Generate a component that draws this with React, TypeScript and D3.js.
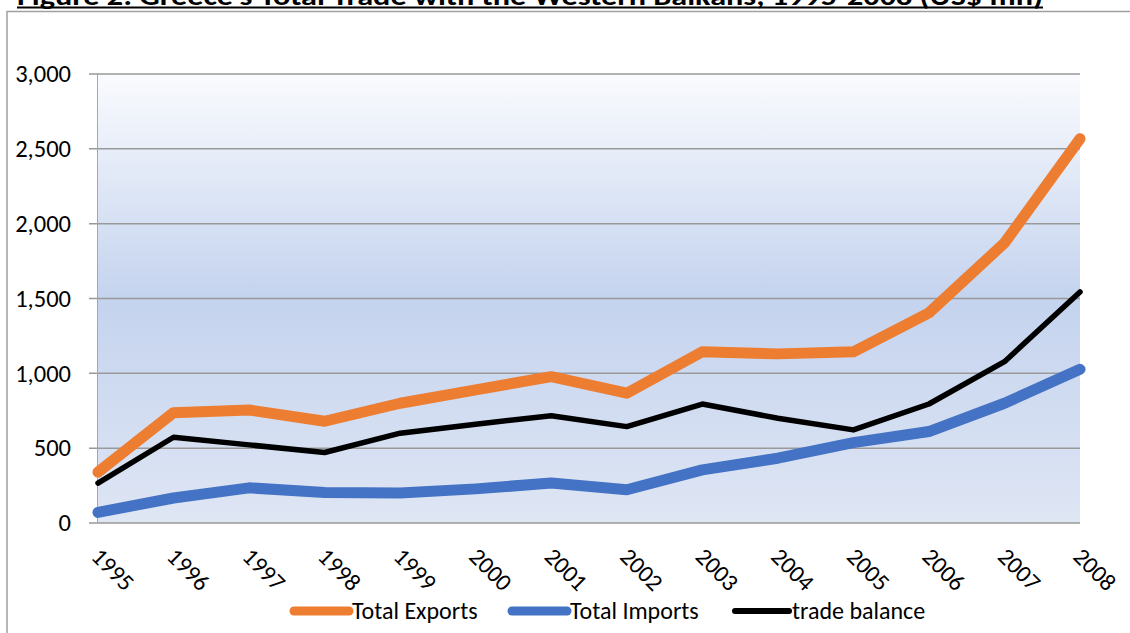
import React from "react";
import * as d3 from "d3";

const years = ["1995","1996","1997","1998","1999","2000","2001","2002","2003","2004","2005","2006","2007","2008"];
const totalExports = [340, 737, 755, 680, 800, 890, 978, 867, 1144, 1130, 1144, 1404, 1871, 2567];
const totalImports = [71, 167, 235, 204, 200, 228, 267, 222, 355, 433, 537, 611, 800, 1027];
const tradeBalance = [267, 573, 522, 471, 600, 660, 717, 644, 795, 700, 622, 795, 1078, 1544];
const yTicks = [0, 500, 1000, 1500, 2000, 2500, 3000];
const titleText = "Figure 2: Greece\u2019s Total Trade with the Western Balkans, 1995-2008 (US$ mn)";

const series = [
  { name: "Total Exports", values: totalExports, color: "#ED7D31", width: 11 },
  { name: "Total Imports", values: totalImports, color: "#4472C4", width: 11 },
  { name: "trade balance", values: tradeBalance, color: "#000000", width: 5.5 },
];

const FONT = "Carlito, Calibri, 'Liberation Sans', Arial, sans-serif";

export default function App() {
  const W = 1130, H = 633;
  const left = 98, right = 1080, top = 74, bottom = 523;
  const x = d3.scalePoint<string>().domain(years).range([left, right]);
  const y = d3.scaleLinear().domain([0, 3000]).range([bottom, top]);
  const fmt = d3.format(",");
  const line = d3.line<number>().x((_, i) => x(years[i]) as number).y((v) => y(v));

  const legendItems = [
    { s: series[0], x0: 294, x1: 349, tx: 352, tw: 131 },
    { s: series[1], x0: 512, x1: 567, tx: 570, tw: 134 },
    { s: series[2], x0: 735, x1: 789, tx: 792, tw: 136 },
  ];

  return (
    <svg width={W} height={H} style={{ position: "fixed", left: 0, top: 0 }} fontFamily={FONT}>
      <defs>
        <linearGradient id="bg" x1="0" y1="0" x2="0" y2="1">
          <stop offset="0%" stopColor="#fafbfe" />
          <stop offset="50%" stopColor="#c4d3ee" />
          <stop offset="100%" stopColor="#dfe6f4" />
        </linearGradient>
      </defs>
      <rect x={0} y={0} width={W} height={H} fill="#ffffff" />
      <text x={17} y={5} fontSize={26} fontWeight="bold" fill="#000" textLength={1026} lengthAdjust="spacingAndGlyphs">
        {titleText}
      </text>
      <line x1={17} x2={1043} y1={7.5} y2={7.5} stroke="#000" strokeWidth={2} />
      <rect x={7} y={11.5} width={W + 20} height={H + 20} fill="none" stroke="#a0a0a0" strokeWidth={1.5} />
      <rect x={left} y={top} width={right - left} height={bottom - top} fill="url(#bg)" />
      {yTicks.map((t) => (
        <g key={t}>
          <line x1={89} x2={right} y1={y(t)} y2={y(t)} stroke="#999999" strokeWidth={1.5} />
          <text x={71} y={y(t)} dy="0.34em" textAnchor="end" fontSize={24.5} fill="#000">{fmt(t)}</text>
        </g>
      ))}
      <line x1={97.5} x2={97.5} y1={top} y2={bottom} stroke="#a6a6a6" strokeWidth={1} />
      {series.map((s) => (
        <path key={s.name} d={line(s.values) || ""} fill="none" stroke={s.color} strokeWidth={s.width} strokeLinejoin="round" strokeLinecap="round" />
      ))}
      {years.map((yr) => (
        <text key={yr} transform={`translate(${(x(yr) as number) - 8},${558}) rotate(45)`} fontSize={24} fill="#000">{yr}</text>
      ))}
      {legendItems.map((it) => (
        <g key={it.s.name}>
          <line x1={it.x0} x2={it.x1} y1={611} y2={611} stroke={it.s.color} strokeWidth={it.s.width === 5.5 ? 6 : 9} strokeLinecap="round" />
          <text x={it.tx} y={611} dy="0.34em" fontSize={24} fill="#000">{it.s.name}</text>
        </g>
      ))}
    </svg>
  );
}
